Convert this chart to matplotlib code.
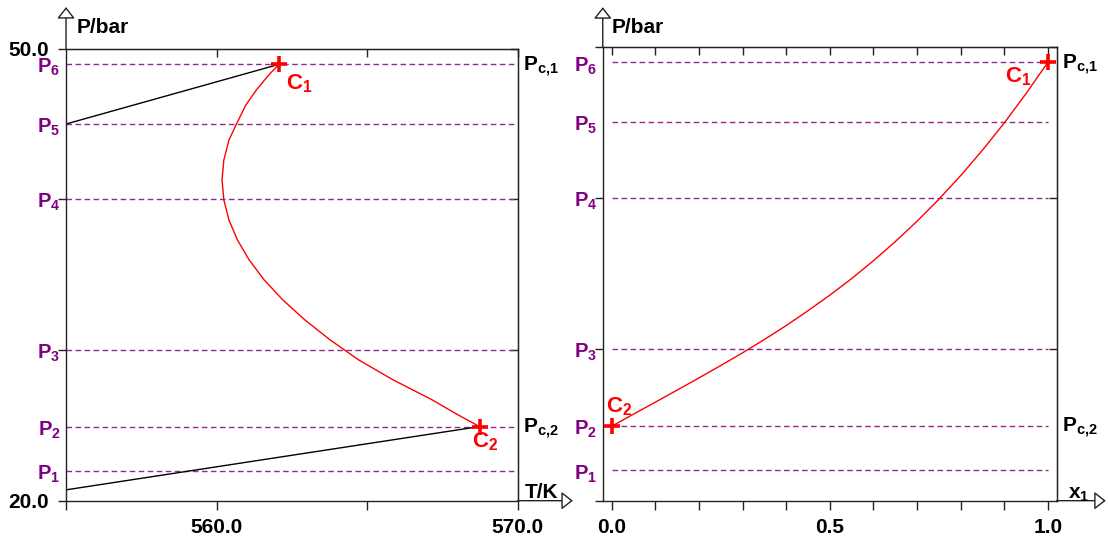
import matplotlib
matplotlib.use('Agg')
import matplotlib.pyplot as plt

plt.rcParams['font.family'] = 'Liberation Sans'
plt.rcParams['font.weight'] = 'bold'
plt.rcParams['mathtext.fontset'] = 'custom'
plt.rcParams['mathtext.bf'] = 'Liberation Sans:bold'
plt.rcParams['mathtext.rm'] = 'Liberation Sans:bold'
plt.rcParams['mathtext.it'] = 'Liberation Sans:bold'

# pressure levels [bar]
p_levels = [22.0, 24.92, 30.0, 40.0, 45.0, 48.96]
p_names = ['1', '2', '3', '4', '5', '6']
pc1 = 48.96
pc2 = 24.92

# critical points
c1_T, c2_T = 562.07, 568.73
c1_x, c2_x = 1.0, 0.0

# T-P projection of the critical line
crit_T = [562.07, 561.73, 561.32, 560.97, 560.66, 560.41, 560.24, 560.18,
          560.24, 560.41, 560.69, 561.08, 561.58, 562.20, 562.93, 563.77,
          564.72, 565.86, 567.16, 568.02, 568.73]
crit_P = [48.96, 48.25, 47.26, 46.26, 45.00, 43.94, 42.61, 41.29,
          39.96, 38.63, 37.31, 35.98, 34.65, 33.32, 32.00, 30.67,
          29.34, 28.02, 26.69, 25.69, 24.92]

# three phase lines
upper_T = [555.0, 562.07]
upper_P = [45.0, 48.96]
lower_T = [555.0, 568.73]
lower_P = [20.72, 24.92]

# x1-P projection of the critical line
crit_x = [0.0, 0.05, 0.1, 0.15, 0.2, 0.25, 0.3, 0.35, 0.4, 0.45, 0.5,
          0.55, 0.6, 0.65, 0.7, 0.75, 0.8, 0.85, 0.9, 0.95, 1.0]
crit_xP = [24.92, 25.72, 26.51, 27.31, 28.11, 28.93, 29.77, 30.65, 31.57,
           32.55, 33.58, 34.67, 35.85, 37.11, 38.46, 39.91, 41.47, 43.15,
           44.95, 46.89, 48.96]

purple = '#800080'
dash_col = '#8e2a8e'
axcol = '#222222'
fs = 15

fig = plt.figure(figsize=(11.08, 5.45), dpi=100)
axL = fig.add_axes([0.0596, 0.0813, 0.4077, 0.8294])
axR = fig.add_axes([0.5440, 0.0813, 0.4097, 0.8330])

axL.set_xlim(555, 570)
axR.set_xlim(-0.0206, 1.0206)
for ax in (axL, axR):
    ax.set_ylim(20, 50)
    for s in ax.spines.values():
        s.set_color(axcol)
        s.set_linewidth(1.0)
    ax.tick_params(axis='x', direction='out', length=6.5, width=1.0,
                   pad=6, labelsize=fs, color=axcol)
    ax.tick_params(axis='y', direction='out', length=5.5, width=1.0,
                   pad=6.5, labelsize=fs, color=axcol)
    ax.set_yticks([20, 30, 40, 50])

axL.set_xticks([555, 560, 565, 570])
axL.set_xticklabels(['', '560.0', '', '570.0'])
axL.set_yticklabels(['20.0', '', '', '50.0'])
axR.set_xticks([i / 10 for i in range(11)])
axR.set_xticklabels(['0.0', '', '', '', '', '0.5', '', '', '', '', '1.0'])
axR.set_yticklabels([])

# inward ticks on top and right
for ax, xt in ((axL, [560, 565, 570]), (axR, [i / 10 for i in range(11)])):
    top = ax.secondary_xaxis('top')
    top.set_xticks(xt)
    top.set_xticklabels([])
    top.tick_params(direction='in', length=6, width=1.0, color=axcol)
    right = ax.secondary_yaxis('right')
    right.set_yticks([30, 40, 50])
    right.set_yticklabels([])
    right.tick_params(direction='in', length=6, width=1.0, color=axcol)

# dashed pressure levels
axL.hlines(p_levels, 555, 570, colors=dash_col, linestyles=(0, (4, 2.5)),
           lw=1.0)
axR.hlines(p_levels, 0, 1, colors=dash_col, linestyles=(0, (4, 2.5)), lw=1.0)

# curves
axL.plot(upper_T, upper_P, color='black', lw=1.0)
axL.plot(lower_T, lower_P, color='black', lw=1.0)
axL.plot(crit_T, crit_P, color='red', lw=1.0)
axR.plot(crit_x, crit_xP, color='red', lw=1.0)

for ax, xs in ((axL, [c1_T, c2_T]), (axR, [c1_x, c2_x])):
    ax.plot(xs, [pc1, pc2], ls='none', marker='+', ms=11, mew=2.6,
            color='red', zorder=5, clip_on=False)

# P labels
for ax in (axL, axR):
    for p, n in zip(p_levels, p_names):
        ax.annotate(r'$\mathbf{P_{%s}}$' % n, xy=(0, p),
                    xycoords=('axes fraction', 'data'), xytext=(-4, -2.5),
                    textcoords='offset points', ha='right', va='center',
                    color=purple, fontsize=fs - 0.5)
    ax.annotate(r'$\mathbf{P_{c{,}1}}$', xy=(1, pc1),
                xycoords=('axes fraction', 'data'), xytext=(4, -1.5),
                textcoords='offset points', ha='left', va='center',
                color='black', fontsize=fs)
    ax.annotate(r'$\mathbf{P_{c{,}2}}$', xy=(1, pc2),
                xycoords=('axes fraction', 'data'), xytext=(4, -1.5),
                textcoords='offset points', ha='left', va='center',
                color='black', fontsize=fs)

# C labels
axL.annotate(r'$\mathbf{C_1}$', xy=(c1_T, pc1), xytext=(5, -6),
             textcoords='offset points', ha='left', va='top', color='red',
             fontsize=fs + 1)
axL.annotate(r'$\mathbf{C_2}$', xy=(c2_T, pc2), xytext=(4, -3),
             textcoords='offset points', ha='center', va='top', color='red',
             fontsize=fs + 1)
axR.annotate(r'$\mathbf{C_1}$', xy=(c1_x, pc1), xytext=(-12, -2),
             textcoords='offset points', ha='right', va='top', color='red',
             fontsize=fs + 1)
axR.annotate(r'$\mathbf{C_2}$', xy=(c2_x, pc2), xytext=(-4, 6),
             textcoords='offset points', ha='left', va='bottom', color='red',
             fontsize=fs + 1)

# axis arrows and titles
arr = dict(arrowstyle='-|>,head_length=0.7,head_width=0.55', fc='white',
           ec=axcol, lw=1.0, mutation_scale=10, shrinkA=0, shrinkB=0)
axL.annotate('', xy=(0, 1.092), xytext=(0, 1), xycoords='axes fraction',
             arrowprops=arr)
axL.annotate('', xy=(1.122, 0), xytext=(1, 0), xycoords='axes fraction',
             arrowprops=arr)
axR.annotate('', xy=(0, 1.087), xytext=(0, 1), xycoords='axes fraction',
             arrowprops=arr)
axR.annotate('', xy=(1.108, 0), xytext=(1, 0), xycoords='axes fraction',
             arrowprops=arr)

axL.text(0.024, 1.035, 'P/bar', transform=axL.transAxes, fontsize=fs,
         va='baseline', ha='left')
axR.text(0.020, 1.030, 'P/bar', transform=axR.transAxes, fontsize=fs,
         va='baseline', ha='left')
axL.text(1.016, 0.006, 'T/K', transform=axL.transAxes, fontsize=fs,
         va='baseline', ha='left')
axR.text(1.025, 0.004, r'$\mathbf{x_1}$', transform=axR.transAxes,
         fontsize=fs, va='baseline', ha='left')

fig.savefig('out.png', dpi=100)
